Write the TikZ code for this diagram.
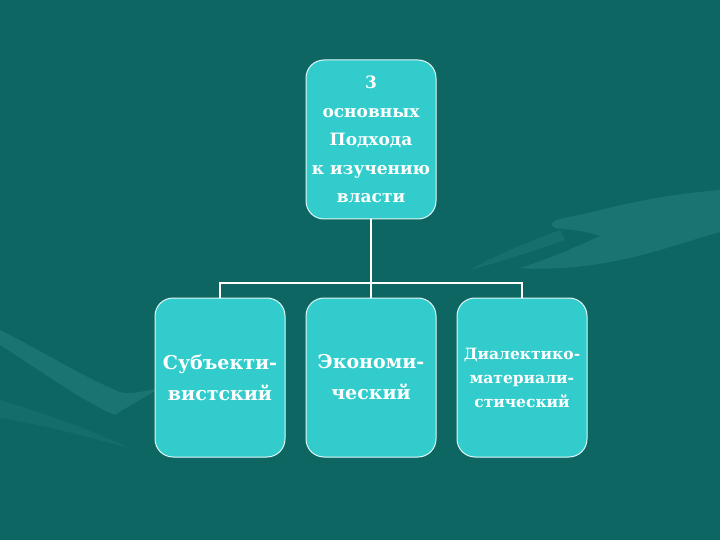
\documentclass[tikz,border=0pt]{standalone}
\usepackage{fontspec}
\setmainfont{DejaVu Serif}
\definecolor{bg}{HTML}{0E6662}
\definecolor{boxfill}{HTML}{33CCCC}
\definecolor{ghost}{HTML}{2E8C86}
\begin{document}
\begin{tikzpicture}[x=1pt,y=-1pt,
  box/.style={draw=white!85!boxfill,line width=1pt,fill=boxfill,rounded corners=18pt,
    minimum width=130pt,minimum height=159pt,inner sep=0pt,align=center,
    text=white,font=\bfseries},
  bigtext/.style={font=\bfseries\fontsize{19}{31}\selectfont},
  smalltext/.style={font=\bfseries\fontsize{15.5}{24}\selectfont},
  link/.style={draw=white,line width=2pt}]
\useasboundingbox (0,0) rectangle (720,540);
\fill[bg] (0,0) rectangle (720,540);
% faint hand silhouettes in background
\fill[ghost,opacity=0.4] (720,190) .. controls (660,195) and (620,205) .. (580,215)
  .. controls (560,218) and (545,222) .. (555,228)
  .. controls (575,230) and (590,232) .. (600,236)
  .. controls (570,250) and (540,262) .. (520,268)
  .. controls (540,270) and (580,268) .. (610,262)
  .. controls (650,255) and (690,240) .. (720,232) -- cycle;
\fill[ghost,opacity=0.25] (560,230) .. controls (520,245) and (490,258) .. (470,270)
  .. controls (500,262) and (530,252) .. (565,240) -- cycle;
\fill[ghost,opacity=0.4] (0,330) .. controls (40,350) and (80,375) .. (115,390)
  .. controls (125,396) and (140,392) .. (160,388)
  .. controls (140,400) and (125,408) .. (115,415)
  .. controls (80,400) and (40,370) .. (0,345) -- cycle;
\fill[ghost,opacity=0.2] (0,400) .. controls (50,415) and (90,430) .. (130,448)
  .. controls (90,438) and (45,425) .. (0,418) -- cycle;
% nodes
\node[box,font=\bfseries\fontsize{17}{28.5}\selectfont] (top) at (371,139.5)
  {3\\основных\\Подхода\\к изучению\\власти};
\node[box,bigtext] (a) at (220,377.5) {Субъекти-\\вистский};
\node[box,bigtext] (b) at (371,377.5) {Экономи-\\ческий};
\node[box,smalltext] (c) at (522,377.5) {Диалектико-\\материали-\\стический};
\coordinate (j) at (371,283);
\draw[link] (top.south) -- (j);
\draw[link] (a.north) |- (j);
\draw[link] (c.north) |- (j);
\draw[link] (j) -- (b.north);
\end{tikzpicture}
\end{document}
